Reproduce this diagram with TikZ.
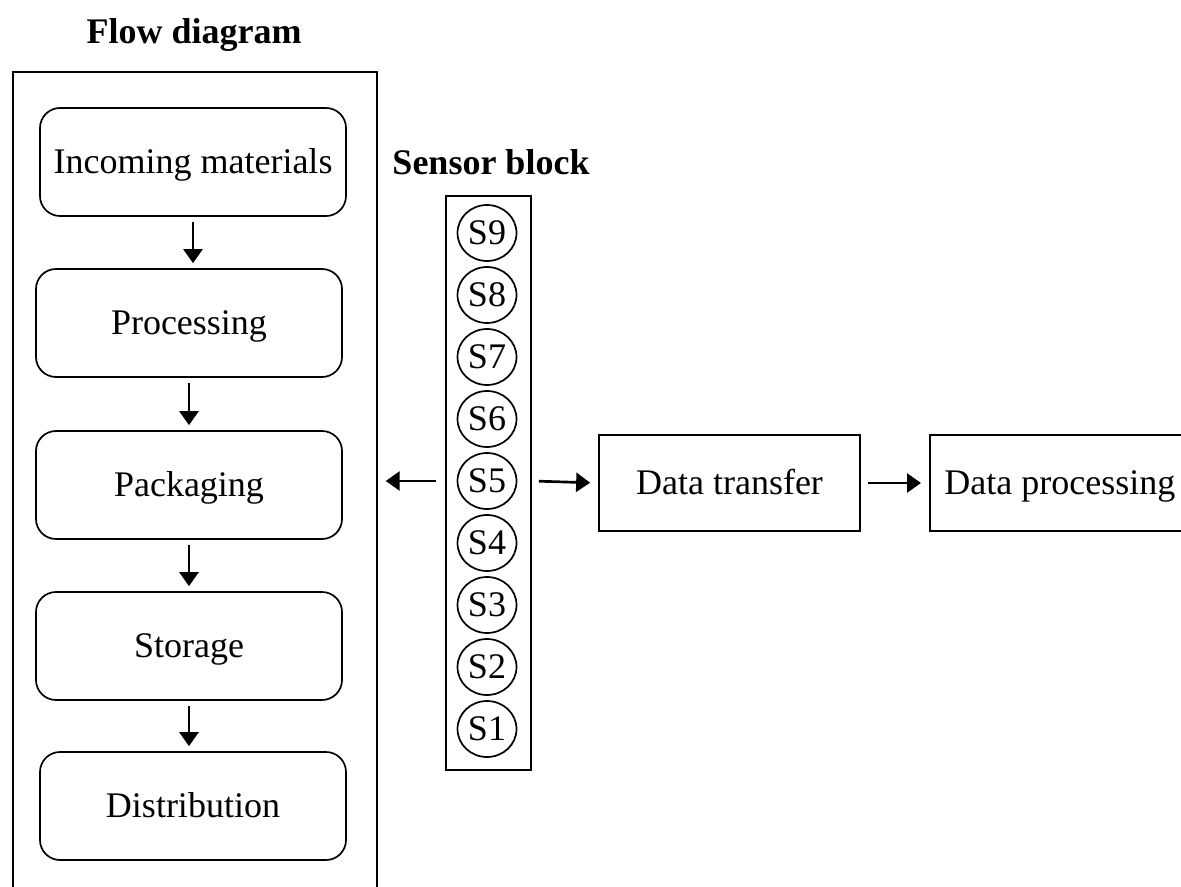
\documentclass[tikz,border=0pt]{standalone}
\usepackage{fontspec}
\setmainfont{Liberation Serif}
\usetikzlibrary{arrows.meta,calc,shapes.geometric}
\tikzset{
  every node/.style={font=\fontsize{18pt}{21pt}\selectfont, inner sep=0pt, text height=11.9pt, text depth=0pt},
  stage/.style={draw, line width=0.85pt, rounded corners=10pt, minimum width=153pt, minimum height=54pt},
  sensor/.style={draw, line width=0.85pt, ellipse, minimum width=29.5pt, minimum height=28pt},
  plainbox/.style={draw, line width=0.85pt, minimum height=48pt},
  title/.style={font=\fontsize{18pt}{21pt}\selectfont\bfseries},
  arr/.style={line width=1.35pt, -{Triangle[length=7pt,width=9.5pt]}}
}
\begin{document}
\begin{tikzpicture}[x=0.5pt,y=-0.5pt]
\useasboundingbox (0,0) rectangle (1181,887);
\clip (0,0) rectangle (1181,887);
% titles
\node[title] (t1) at (194,32) {Flow diagram};
\node[title] (t2) at (491,163) {Sensor block};
% outer frame
\node[draw, line width=0.85pt, minimum width=182pt, minimum height=440pt, anchor=north west] (frame) at (12,71) {};
% stages
\node[stage] (inc) at (193,162) {Incoming materials};
\node[stage] (proc) at (189,323) {Processing};
\node[stage] (pack) at (189,485) {Packaging};
\node[stage] (stor) at (189,646) {Storage};
\node[stage] (dist) at (193,806) {Distribution};
\foreach \a/\b in {inc/proc,proc/pack,pack/stor,stor/dist}{
  \draw[arr, shorten <=2.5pt, shorten >=2.5pt] (\a.south) -- (\a.south |- \b.north);
}
% sensor block
\node[draw, line width=0.85pt, minimum width=42.5pt, minimum height=287pt] (sblock) at (488.5,483) {};
\foreach \k in {1,...,9}{
  \node[sensor] (s\k) at (487,{233+62*(9-\k)}) {S\k};
}
% data boxes
\node[plainbox, minimum width=130.5pt] (dt) at (729.5,483) {Data transfer};
\node[plainbox, minimum width=130pt, anchor=west] (dp) at (929,483) {Data processing};
% arrows
\draw[arr, shorten <=4.5pt, shorten >=4pt] (sblock.west |- s5) -- (frame.east |- s5);
\draw[arr, shorten <=3.5pt, shorten >=4pt] (sblock.east |- s5) -- (dt.west);
\draw[arr, shorten <=3.5pt, shorten >=4pt] (dt.east) -- (dp.west);
\end{tikzpicture}
\end{document}
